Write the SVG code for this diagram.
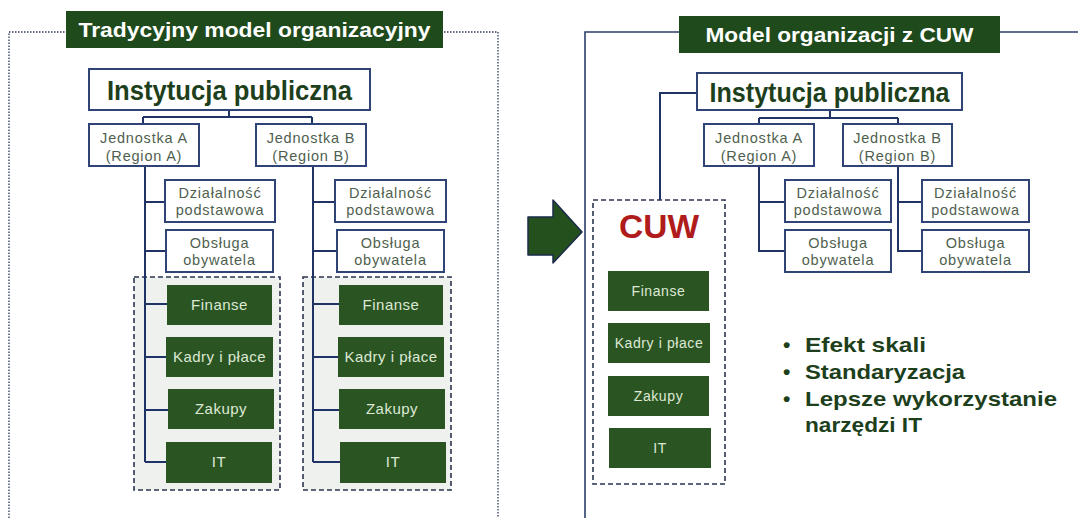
<svg xmlns="http://www.w3.org/2000/svg" width="1078" height="518" viewBox="0 0 1078 518">
<style>
.bg{fill:#ffffff}
.title{fill:#1f4a1c}
.titletxt{fill:#ffffff;font-family:"Liberation Sans",Arial,sans-serif;font-weight:bold;font-size:21px}
.box{fill:#ffffff;stroke:#2f4377;stroke-width:2}
.big{fill:#1e3f1c;font-family:"Liberation Sans",Arial,sans-serif;font-weight:bold;font-size:28px}
.sm{fill:#4f5f4f;font-family:"Liberation Sans",Arial,sans-serif;font-size:14.5px;letter-spacing:0.8px}
.gbox{fill:#2a5523}
.gtxt{fill:#dde8d4;font-family:"Liberation Sans",Arial,sans-serif;font-size:15px;letter-spacing:0.5px}
.gtxt2{fill:#dde8d4;font-family:"Liberation Sans",Arial,sans-serif;font-size:14px;letter-spacing:0.6px}
.dash{fill:#eef1ee;stroke:#2b3550;stroke-width:1.6;stroke-dasharray:5 3}
.dashw{fill:#ffffff;stroke:#2b3550;stroke-width:1.6;stroke-dasharray:5 3}
.conn{fill:none;stroke:#1f3366;stroke-width:2}
.bul{fill:#1e3f1c;font-family:"Liberation Sans",Arial,sans-serif;font-weight:bold;font-size:21px}
</style>
<rect class="bg" x="0" y="0" width="1078" height="518"/>

<!-- frames -->
<g id="frames">
<path d="M9 518 V32 H498 V518" fill="none" stroke="#2e3a5a" stroke-width="1.3" stroke-dasharray="1.5 1.5"/>
<path d="M585 518 V32 H1078" fill="none" stroke="#2b3f6b" stroke-width="1.6"/>
</g>

<!-- dashed groups -->
<g id="groupA"><rect class="dash" x="134" y="277" width="146" height="213"/></g>
<g id="groupB"><rect class="dash" x="303" y="277" width="148" height="213"/></g>
<g id="groupCUW"><rect class="dashw" x="593" y="200" width="132" height="284"/>
<text x="659" y="238" text-anchor="middle" fill="#b01c1c" font-family="Liberation Sans, Arial, sans-serif" font-weight="bold" font-size="33" textLength="80" lengthAdjust="spacingAndGlyphs">CUW</text></g>

<!-- connectors -->
<g id="connectors" class="conn">
<path d="M229 110 V117 M143 117 H312 M143 117 V124 M312 117 V124"/>
<path d="M145 166 V462 M145 202 H165 M145 251 H166 M145 304 H167 M145 357 H166 M145 410 H168 M145 462 H166"/>
<path d="M313 166 V462 M313 202 H335 M313 251 H337 M313 304 H339 M313 357 H338 M313 410 H339 M313 462 H340"/>
<path d="M830 110 V118 M759 118 H898 M759 118 V124 M898 118 V124"/>
<path d="M759 166 V251 H785 M759 202 H785"/>
<path d="M898 166 V251 H922 M898 202 H922"/>
<path d="M697 93 H660 V200"/>
</g>

<!-- titles -->
<g id="title-left">
<rect class="title" x="66" y="11" width="377" height="37"/>
<text class="titletxt" x="254.5" y="37" text-anchor="middle" textLength="352" lengthAdjust="spacingAndGlyphs">Tradycyjny model organizacyjny</text>
</g>
<g id="title-right">
<rect class="title" x="679" y="16" width="321" height="37"/>
<text class="titletxt" x="839.5" y="42" text-anchor="middle" textLength="268" lengthAdjust="spacingAndGlyphs">Model organizacji z CUW</text>
</g>

<!-- left tree -->
<g id="inst-left"><rect class="box" x="89" y="69" width="281" height="41"/>
<text class="big" x="229.5" y="100" text-anchor="middle" textLength="245" lengthAdjust="spacingAndGlyphs">Instytucja publiczna</text></g>
<g id="jedA-left"><rect class="box" x="89" y="124" width="110" height="42"/>
<text class="sm" x="144" y="143" text-anchor="middle">Jednostka A</text>
<text class="sm" x="144" y="161" text-anchor="middle">(Region A)</text></g>
<g id="jedB-left"><rect class="box" x="256" y="124" width="110" height="42"/>
<text class="sm" x="311" y="143" text-anchor="middle">Jednostka B</text>
<text class="sm" x="311" y="161" text-anchor="middle">(Region B)</text></g>

<g id="dzA-left"><rect class="box" x="165" y="180" width="110" height="42"/>
<text class="sm" x="220" y="198" text-anchor="middle">Działalność</text>
<text class="sm" x="220" y="215" text-anchor="middle">podstawowa</text></g>
<g id="obA-left"><rect class="box" x="166" y="230" width="107" height="42"/>
<text class="sm" x="219.5" y="248" text-anchor="middle">Obsługa</text>
<text class="sm" x="219.5" y="265" text-anchor="middle">obywatela</text></g>
<g id="finA-left"><rect class="gbox" x="167" y="285" width="105" height="40"/><text class="gtxt" x="219.5" y="310" text-anchor="middle">Finanse</text></g>
<g id="kadA-left"><rect class="gbox" x="166" y="337" width="107" height="40"/><text class="gtxt" x="219.5" y="362" text-anchor="middle">Kadry i płace</text></g>
<g id="zakA-left"><rect class="gbox" x="168" y="389" width="106" height="40"/><text class="gtxt" x="221" y="414" text-anchor="middle">Zakupy</text></g>
<g id="itA-left"><rect class="gbox" x="166" y="442" width="106" height="41"/><text class="gtxt" x="219" y="467" text-anchor="middle">IT</text></g>

<g id="dzB-left"><rect class="box" x="335" y="180" width="111" height="42"/>
<text class="sm" x="390.5" y="198" text-anchor="middle">Działalność</text>
<text class="sm" x="390.5" y="215" text-anchor="middle">podstawowa</text></g>
<g id="obB-left"><rect class="box" x="337" y="230" width="107" height="42"/>
<text class="sm" x="390.5" y="248" text-anchor="middle">Obsługa</text>
<text class="sm" x="390.5" y="265" text-anchor="middle">obywatela</text></g>
<g id="finB-left"><rect class="gbox" x="339" y="285" width="104" height="40"/><text class="gtxt" x="391" y="310" text-anchor="middle">Finanse</text></g>
<g id="kadB-left"><rect class="gbox" x="338" y="337" width="106" height="40"/><text class="gtxt" x="391" y="362" text-anchor="middle">Kadry i płace</text></g>
<g id="zakB-left"><rect class="gbox" x="339" y="389" width="106" height="40"/><text class="gtxt" x="392" y="414" text-anchor="middle">Zakupy</text></g>
<g id="itB-left"><rect class="gbox" x="340" y="442" width="106" height="41"/><text class="gtxt" x="393" y="467" text-anchor="middle">IT</text></g>

<!-- arrow -->
<g id="arrow"><path d="M528 217 H553 V200 L582 232 L553 263 V255 H528 Z" fill="#24501e" stroke="#1b2a4a" stroke-width="1.5" stroke-linejoin="round"/></g>

<!-- right tree -->
<g id="inst-right"><rect class="box" x="697" y="73" width="265" height="37"/>
<text class="big" x="829.5" y="102" text-anchor="middle" textLength="240" lengthAdjust="spacingAndGlyphs">Instytucja publiczna</text></g>
<g id="jedA-right"><rect class="box" x="704" y="124" width="110" height="42"/>
<text class="sm" x="759" y="143" text-anchor="middle">Jednostka A</text>
<text class="sm" x="759" y="161" text-anchor="middle">(Region A)</text></g>
<g id="jedB-right"><rect class="box" x="843" y="124" width="109" height="42"/>
<text class="sm" x="897.5" y="143" text-anchor="middle">Jednostka B</text>
<text class="sm" x="897.5" y="161" text-anchor="middle">(Region B)</text></g>
<g id="dzA-right"><rect class="box" x="785" y="180" width="106" height="42"/>
<text class="sm" x="838" y="198" text-anchor="middle">Działalność</text>
<text class="sm" x="838" y="215" text-anchor="middle">podstawowa</text></g>
<g id="obA-right"><rect class="box" x="785" y="230" width="106" height="42"/>
<text class="sm" x="838" y="248" text-anchor="middle">Obsługa</text>
<text class="sm" x="838" y="265" text-anchor="middle">obywatela</text></g>
<g id="dzB-right"><rect class="box" x="922" y="180" width="107" height="42"/>
<text class="sm" x="975.5" y="198" text-anchor="middle">Działalność</text>
<text class="sm" x="975.5" y="215" text-anchor="middle">podstawowa</text></g>
<g id="obB-right"><rect class="box" x="922" y="230" width="107" height="42"/>
<text class="sm" x="975.5" y="248" text-anchor="middle">Obsługa</text>
<text class="sm" x="975.5" y="265" text-anchor="middle">obywatela</text></g>

<g id="fin-cuw"><rect class="gbox" x="608" y="271" width="101" height="40"/><text class="gtxt2" x="658.5" y="296" text-anchor="middle">Finanse</text></g>
<g id="kad-cuw"><rect class="gbox" x="608" y="323" width="102" height="40"/><text class="gtxt2" x="659" y="348" text-anchor="middle">Kadry i płace</text></g>
<g id="zak-cuw"><rect class="gbox" x="608" y="376" width="101" height="40"/><text class="gtxt2" x="658.5" y="401" text-anchor="middle">Zakupy</text></g>
<g id="it-cuw"><rect class="gbox" x="609" y="428" width="102" height="40"/><text class="gtxt2" x="660" y="453" text-anchor="middle">IT</text></g>

<!-- bullets -->
<g id="bullets">
<text class="bul" x="783" y="352">•</text><text class="bul" x="805" y="352" textLength="121" lengthAdjust="spacingAndGlyphs">Efekt skali</text>
<text class="bul" x="783" y="379">•</text><text class="bul" x="805" y="379" textLength="160" lengthAdjust="spacingAndGlyphs">Standaryzacja</text>
<text class="bul" x="783" y="406">•</text><text class="bul" x="805" y="406" textLength="252" lengthAdjust="spacingAndGlyphs">Lepsze wykorzystanie</text>
<text class="bul" x="805" y="432" textLength="117" lengthAdjust="spacingAndGlyphs">narzędzi IT</text>
</g>
</svg>
